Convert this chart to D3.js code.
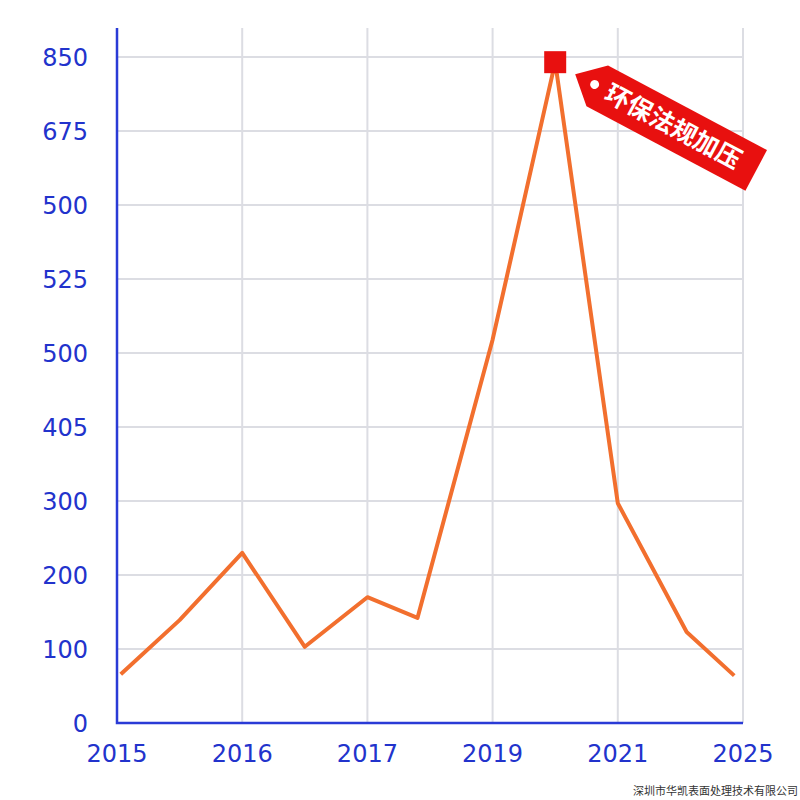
<!DOCTYPE html><html><head><meta charset="utf-8"><script src="https://cdn.jsdelivr.net/npm/d3@7"></script>
<style>body{margin:0;background:#fff}</style></head><body><svg id="c" width="800" height="800"></svg><script>
const xLabels=["2015","2016","2017","2019","2021","2025"];
const yLabels=["0","100","200","300","405","500","525","500","675","850"];
const xs=[0.03,0.5,1,1.5,2,2.4,3,3.5,4,4.55,4.93];
const vals=[66,139,230,103,170,142,518,893,297,123,64];
const svg=d3.select("#c");
const x=d3.scaleLinear().domain([0,5]).range([117,743]);
const y=d3.scaleLinear().domain([0,900]).range([723,57]);
const g=svg.append("g");
xLabels.forEach((l,i)=>g.append("line").attr("x1",x(i)).attr("x2",x(i)).attr("y1",28).attr("y2",723).attr("stroke","#dcdde3").attr("stroke-width",2));
yLabels.forEach((l,i)=>{g.append("line").attr("x1",117).attr("x2",743).attr("y1",y(i*100)).attr("y2",y(i*100)).attr("stroke","#dcdde3").attr("stroke-width",2);
 g.append("text").attr("x",88).attr("y",y(i*100)+9).attr("text-anchor","end").attr("font-family","DejaVu Sans").attr("font-size",24).attr("fill","#2233cc").text(l);});
xLabels.forEach((l,i)=>g.append("text").attr("x",x(i)).attr("y",762).attr("text-anchor","middle").attr("font-family","DejaVu Sans").attr("font-size",24).attr("fill","#2233cc").text(l));
g.append("path").attr("d","M117,28V723H743").attr("fill","none").attr("stroke","#2a3bd6").attr("stroke-width",2.5);
const line=d3.line().x((d,i)=>x(xs[i])).y(d=>y(d));
g.append("path").datum(vals).attr("d",line).attr("fill","none").attr("stroke","#f26f2e").attr("stroke-width",4).attr("stroke-linejoin","round");
const px=x(3.5),py=y(893);
g.append("rect").attr("x",px-11).attr("y",py-11).attr("width",22).attr("height",22).attr("fill","#e8100f");
const t=g.append("g").attr("transform",`translate(${px+20},${py+12}) rotate(28)`);
t.append("polygon").attr("points","0,0 25,-23 205,-23 205,23 25,23").attr("fill","#e8100f");
t.append("circle").attr("cx",22).attr("cy",0).attr("r",4.5).attr("fill","#fff");
t.append("text").attr("x",36).attr("y",9).attr("font-family","Noto Sans CJK SC").attr("font-weight","bold").attr("font-size",25).attr("fill","#fff").text("环保法规加压");
svg.append("text").attr("x",798).attr("y",795).attr("text-anchor","end").attr("font-family","Noto Sans CJK SC").attr("font-size",11).attr("fill","#333").text("深圳市华凯表面处理技术有限公司");
</script></body></html>
